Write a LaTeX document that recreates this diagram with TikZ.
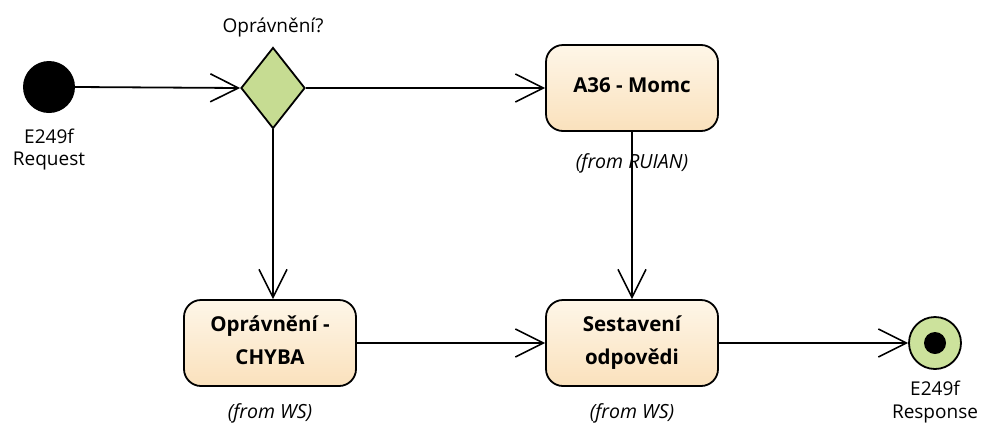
\documentclass[tikz,border=0pt]{standalone}
\usepackage{fontspec}
\setmainfont{Open Sans}
\usetikzlibrary{arrows.meta,shapes.geometric}
\definecolor{boxtop}{RGB}{254,246,232}
\definecolor{boxbot}{RGB}{250,225,188}
\definecolor{greenfill}{RGB}{198,220,146}
\definecolor{endfill}{RGB}{204,226,156}
\tikzset{
  every node/.style={font=\fontsize{19}{25}\selectfont},
  action/.style={draw=black, line width=1.8pt, top color=boxtop, bottom color=boxbot, rounded corners=17pt,
    minimum width=172pt, minimum height=86pt, align=center, text depth=6pt,
    font=\fontsize{20.5}{33}\selectfont\bfseries},
  decision/.style={diamond, draw=black, line width=1.8pt, fill=greenfill,
    minimum width=64pt, minimum height=81pt, inner sep=0pt},
  lbl/.style={inner sep=0pt, align=center},
  fromlbl/.style={inner sep=0pt, font=\fontsize{19.5}{25}\selectfont\itshape},
  flow/.style={draw=black, line width=1.8pt, -{Straight Barb[length=28pt,width=28pt,line width=1.6pt]}},
}
\begin{document}
\begin{tikzpicture}[x=1pt,y=-1pt]
\useasboundingbox (0,0) rectangle (983,429);
% start
\node[circle, fill=black, minimum size=52pt, inner sep=0pt] (start) at (49,87) {};
\node[lbl] (startl1) at (49,136) {E249f};
\node[lbl] (startl2) at (49,161) {Request};
% decision
\node[decision] (dec) at (273,88) {};
\node[lbl] (decl) at (273,28) {Oprávnění?};
% actions
\node[action] (a36) at (632,88) {A36 - Momc};
\node[fromlbl] (a36f) at (632,163) {(from RUIAN)};
\node[action] (chyba) at (270,343) {Oprávnění -\\CHYBA};
\node[fromlbl] (chybaf) at (270,413) {(from WS)};
\node[action] (sest) at (632,343) {Sestavení\\odpovědi};
\node[fromlbl] (sestf) at (632,413) {(from WS)};
% end
\node[circle, draw=black, line width=1.8pt, fill=endfill, minimum size=52pt, inner sep=0pt] (end) at (935,343) {};
\node[circle, fill=black, minimum size=22pt, inner sep=0pt] (endin) at (935,343) {};
\node[lbl] (endl1) at (935,388) {E249f};
\node[lbl] (endl2) at (935,414) {Response};
% flows
\draw[flow] (start.east) -- (dec.west);
\draw[flow] (dec.east) -- (a36.west);
\draw[flow] (dec.south) -- (dec.south |- chyba.north);
\draw[flow] (a36.south) -- (sest.north);
\draw[flow] (chyba.east) -- (sest.west);
\draw[flow] (sest.east) -- (end.west);
\end{tikzpicture}
\end{document}
